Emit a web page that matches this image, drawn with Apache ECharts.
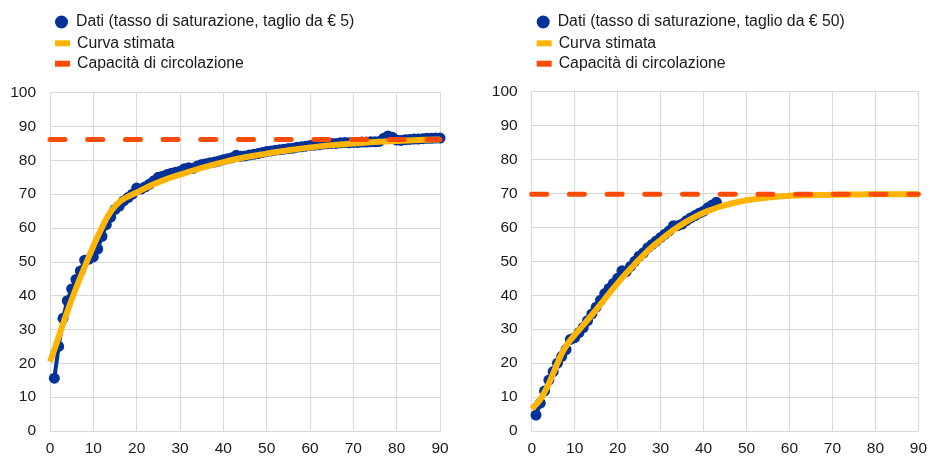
<!DOCTYPE html>
<html><head><meta charset="utf-8">
<script src="https://cdn.jsdelivr.net/npm/echarts@6/dist/echarts.min.js"></script>
<style>html,body{margin:0;padding:0;background:#fff}#c{width:930px;height:457px}</style>
</head><body><div id="c"></div>
<script>
// ---- data ----
const leftName = 'Dati (tasso di saturazione, taglio da € 5)';
const rightName = 'Dati (tasso di saturazione, taglio da € 50)';
const fitName = 'Curva stimata';
const capName = 'Capacità di circolazione';
const xTicks = [0,10,20,30,40,50,60,70,80,90];
const yTicks = [0,10,20,30,40,50,60,70,80,90,100];

// observed data, one value per x = 1, 2, 3, ...
const leftData = [15.6,25,33.3,38.5,42,44.8,47.3,50.5,50.8,51.5,
  53.8,57.5,61,63.2,65.5,66.5,68,69,70,71.8,
  71.5,72.2,73,74,75,75.3,75.8,76.2,76.5,76.8,
  77.5,77.8,77.6,78.3,78.8,79,79.3,79.5,79.8,80.2,
  80.5,80.8,81.5,81.2,81.3,81.6,81.8,82,82.3,82.6,
  82.8,83,83.1,83.3,83.5,83.6,83.9,84,84.2,84.4,
  84.5,84.6,84.8,84.9,85,85,85.2,85.3,85.2,85.3,
  85.3,85.4,85.4,85.5,85.5,85.6,86.5,87.2,86.8,86,
  85.9,86.1,86.2,86.3,86.3,86.4,86.5,86.5,86.6,86.6];
const rightData = [4.7,8.2,11.8,15,17.5,20,22,24,27,27.5,
  29,30.5,32.5,34.5,36.5,38.5,40.5,42,43.5,45,
  47.2,47,48.5,50,51.5,52.5,54,55,56,57,
  58,59,60.5,60.5,61,62,62.8,63.5,64.2,64.8,
  65.8,66.6,67.4];

// fitted curves
const leftFitX = [0,1,2,3,4,5,6,7,8,9,10,11,12,13,14,15,16,17,18,19,20,22,24,26,28,30,35,40,45,50,55,60,65,70,75,80,85,90];
const leftFitY = [20.5,24,27.8,31.6,35.3,38.8,42.2,45.4,48.5,51.6,54.6,57.5,60.2,62.7,64.8,66.4,67.7,68.6,69.3,69.9,70.5,71.8,73,74,75,75.8,77.8,79.5,80.9,82,83,83.8,84.5,85,85.4,85.7,86,86.2];
const rightFitX = [0,1,2,3,4,5,6,7,8,9,10,12,14,16,18,20,22,24,26,28,30,32,34,36,38,40,42,44,46,48,50,55,60,65,70,80,90];
const rightFitY = [6.5,7.8,9.3,11.5,14,17,20,22.8,25,26.8,28.3,31.2,34.2,37.3,40.5,43.6,46.5,49.2,51.8,54.2,56.3,58.3,60.1,61.7,63.1,64.3,65.3,66.2,66.9,67.5,68,68.8,69.3,69.5,69.65,69.75,69.8];

// capacity lines
const capX = [0, 90];
const leftCap = [86.2, 86.2];
const rightCap = [69.8, 69.8];

// ---- chart ----
const BLUE = '#003299', YELLOW = '#FFB400', ORANGE = '#FF4B00';
const FONT = '"Liberation Sans", Arial, sans-serif';
const TXT = '#1a1a1a';
const GRIDC = '#d9d9d9';
const pair = (xs, ys) => xs.map((x, i) => [x, ys[i]]);
const idxPair = (ys) => ys.map((v, i) => [i + 1, v]);

function xAx(gi) {
  return {
    type: 'value', gridIndex: gi, min: xTicks[0], max: xTicks[xTicks.length - 1], interval: 10,
    axisLine: {show: true, lineStyle: {color: GRIDC, width: 1}},
    axisTick: {show: false},
    splitLine: {show: true, lineStyle: {color: GRIDC, width: 1}},
    axisLabel: {color: TXT, fontFamily: FONT, fontSize: 15.5, margin: 10}
  };
}
function yAx(gi) {
  return {
    type: 'value', gridIndex: gi, min: yTicks[0], max: yTicks[yTicks.length - 1], interval: 10,
    axisLine: {show: true, lineStyle: {color: GRIDC, width: 1}},
    axisTick: {show: false},
    splitLine: {show: true, lineStyle: {color: GRIDC, width: 1}},
    axisLabel: {color: TXT, fontFamily: FONT, fontSize: 15.5, margin: 14}
  };
}
function dataSeries(name, gi, ys) {
  return {
    name, type: 'line', xAxisIndex: gi, yAxisIndex: gi, data: idxPair(ys),
    symbol: 'circle', symbolSize: 11, showSymbol: true,
    lineStyle: {color: BLUE, width: 4}, itemStyle: {color: BLUE, borderWidth: 0},
    z: 2, silent: true
  };
}
function fitSeries(gi, xs, ys) {
  return {
    name: fitName, type: 'line', xAxisIndex: gi, yAxisIndex: gi, data: pair(xs, ys),
    smooth: 0.4, showSymbol: false, symbol: 'none',
    lineStyle: {color: YELLOW, width: 6}, itemStyle: {color: YELLOW},
    z: 3, silent: true
  };
}
function capSeries(gi, ys) {
  return {
    name: capName, type: 'line', xAxisIndex: gi, yAxisIndex: gi, data: pair(capX, ys),
    showSymbol: false, symbol: 'none', clip: false,
    lineStyle: {color: ORANGE, width: 5, type: [15, 22.7], cap: 'round'},
    itemStyle: {color: ORANGE},
    z: 4, silent: true
  };
}
function legends(left, dataName) {
  const ts = {color: TXT, fontFamily: FONT, fontSize: 15.8, lineHeight: 16, padding: [0, 0, 0, 2]};
  return [
    {left: left, top: 9, orient: 'vertical', itemWidth: 15, itemHeight: 13,
     itemGap: 4.4, data: [{name: dataName, icon: 'circle'}], textStyle: ts, selectedMode: false},
    {left: left, top: 30.3, orient: 'vertical', itemWidth: 15, itemHeight: 6,
     itemGap: 4.4, data: [{name: fitName, icon: 'rect'}, {name: capName, icon: 'rect'}],
     textStyle: ts, selectedMode: false}
  ];
}

const chart = echarts.init(document.getElementById('c'), null, {renderer: 'canvas'});
chart.setOption({
  animation: false,
  backgroundColor: '#fff',
  legend: legends(50, leftName).concat(legends(531.7, rightName)),
  grid: [
    {left: 50, right: 490, top: 92.7, bottom: 25.3},
    {left: 531.7, right: 9.3, top: 91.7, bottom: 26}
  ],
  xAxis: [xAx(0), xAx(1)],
  yAxis: [yAx(0), yAx(1)],
  series: [
    dataSeries(leftName, 0, leftData),
    fitSeries(0, leftFitX, leftFitY),
    capSeries(0, leftCap),
    dataSeries(rightName, 1, rightData),
    fitSeries(1, rightFitX, rightFitY),
    capSeries(1, rightCap)
  ]
});
</script></body></html>
